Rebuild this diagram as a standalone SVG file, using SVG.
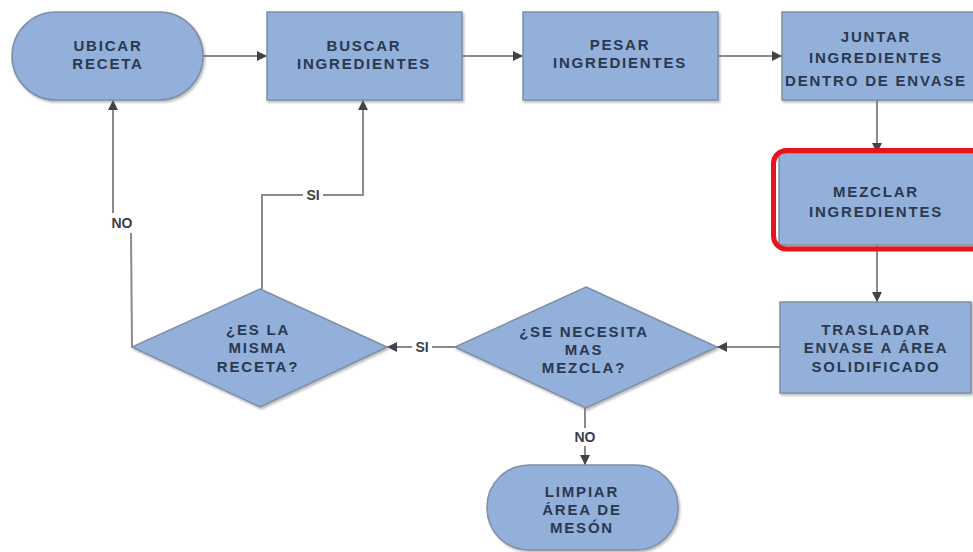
<svg xmlns="http://www.w3.org/2000/svg" width="973" height="552" viewBox="0 0 973 552">
  <defs>
    <style>
      .shape { fill: #93b0da; stroke: #7f8fa8; stroke-width: 1.5; filter: url(#shadow); }
      .txt { font-family: "Liberation Sans", Arial, sans-serif; font-weight: bold; font-size: 15px; fill: #2a3850; text-anchor: middle; letter-spacing: 1.8px; }
      .lbl { font-family: "Liberation Sans", Arial, sans-serif; font-weight: bold; font-size: 14px; fill: #3a4048; text-anchor: middle; }
      .wire { fill: none; stroke: #8a8a8a; stroke-width: 2; }
      .wire-a { fill: none; stroke: #8a8a8a; stroke-width: 2; marker-end: url(#arrow); }
      .focus { fill: none; stroke: #e8141c; stroke-width: 5; }
    </style>
    <marker id="arrow" viewBox="0 0 10 10" refX="10" refY="5" markerWidth="5" markerHeight="5" orient="auto" markerUnits="strokeWidth">
      <path d="M0,0 L10,5 L0,10 Z" fill="#404448"/>
    </marker>
    <filter id="shadow" x="-10%" y="-10%" width="120%" height="130%">
      <feDropShadow dx="1.5" dy="2" stdDeviation="1.2" flood-color="#6b6b6b" flood-opacity="0.45"/>
    </filter>
  </defs>

  <rect x="0" y="0" width="973" height="552" fill="#ffffff"/>

  <!-- connectors -->
  <g id="connectors">
    <line class="wire-a" x1="203" y1="56" x2="267" y2="56"/>
    <line class="wire-a" x1="462" y1="56" x2="523" y2="56"/>
    <line class="wire-a" x1="718" y1="56" x2="782" y2="56"/>
    <line class="wire-a" x1="877" y1="100" x2="877" y2="153"/>
    <line class="wire-a" x1="877" y1="245" x2="877" y2="302"/>
    <line class="wire-a" x1="780" y1="347" x2="717" y2="347"/>
    <!-- SI: to "¿ES LA MISMA RECETA?" -->
    <line class="wire" x1="455" y1="347" x2="432" y2="347"/>
    <line class="wire-a" x1="412" y1="347" x2="387" y2="347"/>
    <text class="lbl" x="422" y="352">SI</text>
    <!-- NO: to cleanup -->
    <line class="wire" x1="585" y1="408" x2="585" y2="428"/>
    <line class="wire-a" x1="585" y1="446" x2="585" y2="465"/>
    <text class="lbl" x="585" y="442">NO</text>
    <!-- SI: back to BUSCAR -->
    <polyline class="wire" points="262,289 262,195 303,195"/>
    <polyline class="wire-a" points="323,195 363,195 363,100"/>
    <text class="lbl" x="313" y="200">SI</text>
    <!-- NO: back to UBICAR -->
    <polyline class="wire" points="132,347 131,233"/>
    <line class="wire-a" x1="113" y1="213" x2="113" y2="100"/>
    <text class="lbl" x="122" y="228">NO</text>
  </g>

  <g id="ubicar">
    <rect class="shape" x="12" y="12" width="191" height="88" rx="44" ry="44"/>
    <text class="txt" x="108" y="51">UBICAR</text>
    <text class="txt" x="108" y="69">RECETA</text>
  </g>

  <g id="buscar">
    <rect class="shape" x="267" y="12" width="195" height="88"/>
    <text class="txt" x="364" y="51">BUSCAR</text>
    <text class="txt" x="364" y="69">INGREDIENTES</text>
  </g>

  <g id="pesar">
    <rect class="shape" x="523" y="12" width="195" height="88"/>
    <text class="txt" x="620" y="50">PESAR</text>
    <text class="txt" x="620" y="68">INGREDIENTES</text>
  </g>

  <g id="juntar">
    <rect class="shape" x="782" y="12" width="195" height="88"/>
    <text class="txt" x="876" y="42">JUNTAR</text>
    <text class="txt" x="876" y="63">INGREDIENTES</text>
    <text class="txt" x="876" y="86">DENTRO DE ENVASE</text>
  </g>

  <g id="mezclar">
    <rect class="shape" x="779" y="153" width="198" height="92"/>
    <text class="txt" x="876" y="197">MEZCLAR</text>
    <text class="txt" x="876" y="217">INGREDIENTES</text>
    <rect class="focus" x="773.5" y="150.5" width="215" height="98.5" rx="13" ry="13"/>
  </g>

  <g id="trasladar">
    <rect class="shape" x="780" y="302" width="191" height="91"/>
    <text class="txt" x="876" y="335">TRASLADAR</text>
    <text class="txt" x="876" y="353">ENVASE A ÁREA</text>
    <text class="txt" x="876" y="372">SOLIDIFICADO</text>
  </g>

  <g id="necesita">
    <polygon class="shape" points="586,287 717,347 586,408 455,347"/>
    <text class="txt" x="584" y="337">¿SE NECESITA</text>
    <text class="txt" x="584" y="355">MAS</text>
    <text class="txt" x="584" y="373">MEZCLA?</text>
  </g>

  <g id="misma">
    <polygon class="shape" points="260,289 387,347 260,407 132,347"/>
    <text class="txt" x="258" y="335">¿ES LA</text>
    <text class="txt" x="258" y="353">MISMA</text>
    <text class="txt" x="258" y="372">RECETA?</text>
  </g>

  <g id="limpiar">
    <rect class="shape" x="487" y="465" width="191" height="85" rx="42" ry="42"/>
    <text class="txt" x="582" y="497">LIMPIAR</text>
    <text class="txt" x="582" y="515">ÁREA DE</text>
    <text class="txt" x="582" y="533">MESÓN</text>
  </g>
</svg>
